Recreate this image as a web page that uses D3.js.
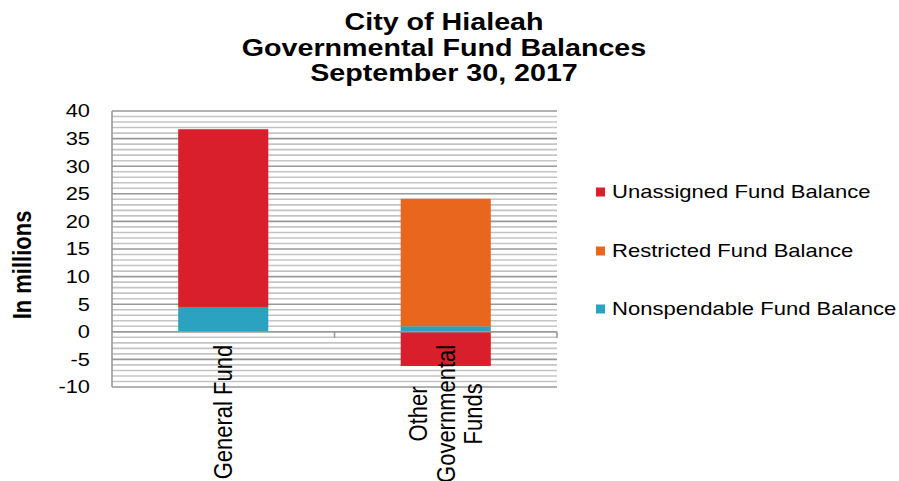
<!DOCTYPE html>
<html>
<head>
<meta charset="utf-8">
<script src="https://cdn.jsdelivr.net/npm/d3@7"></script>
<style>
    body { margin: 0; background: #fff; }
    text { font-family: "Liberation Sans", Arial, sans-serif; fill: #000; }
</style>
</head>
<body>
<svg id="chart" width="899" height="481"></svg>
<script>
// data, in millions
var categories = ["General Fund", "Other Governmental Funds"];
var categoryLines = [["General Fund"], ["Other", "Governmental", "Funds"]];
var seriesNames = ["Nonspendable Fund Balance", "Restricted Fund Balance", "Unassigned Fund Balance"];
var nonspendable = [4.5, 1.0];
var restricted = [0, 23.1];
var unassigned = [32.2, -6.2];
var yTicks = [40, 35, 30, 25, 20, 15, 10, 5, 0, -5, -10];
var titleLines = ["City of Hialeah", "Governmental Fund Balances", "September 30, 2017"];

var colors = {
    "Nonspendable Fund Balance": "#2ba3c0",
    "Restricted Fund Balance": "#e8661e",
    "Unassigned Fund Balance": "#d91f2b"
};

// the reference text is a bit wide, so stretch it sideways
var stretch = 1.18;
var legendStretch = 1.225;

var svg = d3.select("#chart");
var plot = {left: 112, right: 557, top: 111, bottom: 387};

var rows = categories.map(function (c, i) {
    return {
        category: c,
        "Nonspendable Fund Balance": nonspendable[i],
        "Restricted Fund Balance": restricted[i],
        "Unassigned Fund Balance": unassigned[i]
    };
});

var xScale = d3.scaleBand().domain(categories).range([plot.left, plot.right]).padding(0);
var yScale = d3.scaleLinear().domain([-10, 40]).range([plot.bottom, plot.top]);
var barWidth = xScale.bandwidth() * 0.405;

// grid, minor every 1, major every 5
var minorValues = d3.range(-10, 41, 1).filter(function (v) { return v % 5 !== 0; });
svg.append("g")
    .attr("class", "minorGrid")
    .selectAll("line")
    .data(minorValues)
    .enter()
    .append("line")
    .attr("x1", plot.left).attr("x2", plot.right)
    .attr("y1", function (d) { return yScale(d); })
    .attr("y2", function (d) { return yScale(d); })
    .style("stroke", "#c4c4c4")
    .style("stroke-width", 1.6);

svg.append("g")
    .attr("class", "majorGrid")
    .selectAll("line")
    .data(yTicks)
    .enter()
    .append("line")
    .attr("x1", plot.left).attr("x2", plot.right)
    .attr("y1", function (d) { return yScale(d); })
    .attr("y2", function (d) { return yScale(d); })
    .style("stroke", "#999")
    .style("stroke-width", 1.6);

// y axis line
svg.append("line")
    .attr("x1", plot.left).attr("x2", plot.left)
    .attr("y1", plot.top).attr("y2", plot.bottom)
    .style("stroke", "#999")
    .style("stroke-width", 1.6);

// stacked bars
var stack = d3.stack().keys(seriesNames).offset(d3.stackOffsetDiverging);
var stacked = stack(rows);

svg.append("g")
    .attr("class", "bars")
    .selectAll("g")
    .data(stacked)
    .enter()
    .append("g")
    .style("fill", function (d) { return colors[d.key]; })
    .selectAll("rect")
    .data(function (d) { return d; })
    .enter()
    .append("rect")
    .attr("x", function (d) { return xScale(d.data.category) + (xScale.bandwidth() - barWidth) / 2; })
    .attr("width", barWidth)
    .attr("y", function (d) { return yScale(Math.max(d[0], d[1])); })
    .attr("height", function (d) { return Math.abs(yScale(d[0]) - yScale(d[1])); });

// category axis at zero
var xAxisG = svg.append("g")
    .attr("class", "xAxisG")
    .attr("transform", "translate(0," + yScale(0) + ")");
xAxisG.append("line")
    .attr("x1", plot.left).attr("x2", plot.right)
    .style("stroke", "#999")
    .style("stroke-width", 1.6);
xAxisG.selectAll(".tickMark")
    .data(categories)
    .enter()
    .append("line")
    .attr("class", "tickMark")
    .attr("x1", function (d) { return xScale(d) + xScale.bandwidth(); })
    .attr("x2", function (d) { return xScale(d) + xScale.bandwidth(); })
    .attr("y1", 0).attr("y2", 6)
    .style("stroke", "#999")
    .style("stroke-width", 1.6);

// y tick labels
svg.append("g")
    .attr("class", "yLabels")
    .selectAll("text")
    .data(yTicks)
    .enter()
    .append("text")
    .attr("transform", function (d) {
        return "translate(" + (plot.left - 22) + "," + yScale(d) + ") scale(" + stretch + ",1)";
    })
    .attr("text-anchor", "end")
    .attr("dy", "0.35em")
    .style("font-size", "18.5px")
    .text(function (d) { return d; });

// category labels, rotated, longest line ends just under the zero line
var labelTop = yScale(0) + 13;
var lineGap = 27.5;
categoryLines.forEach(function (lines, i) {
    var cx = xScale(categories[i]) + xScale.bandwidth() / 2;
    var g = svg.append("g");
    var texts = g.selectAll("text")
        .data(lines)
        .enter()
        .append("text")
        .attr("text-anchor", "middle")
        .attr("dominant-baseline", "central")
        .style("font-size", "22px")
        .text(function (d) { return d; });
    var maxLen = d3.max(texts.nodes(), function (n) { return n.getComputedTextLength(); });
    var cy = labelTop + maxLen / 2;
    texts.attr("transform", function (d, j) {
        var x = cx + (j - (lines.length - 1) / 2) * lineGap;
        return "translate(" + x + "," + cy + ") scale(" + stretch + ",1) rotate(-90)";
    });
});

// y axis title
svg.append("text")
    .attr("transform", "translate(22," + 265 + ") scale(" + stretch + ",1) rotate(-90)")
    .attr("text-anchor", "middle")
    .attr("dominant-baseline", "central")
    .style("font-size", "22px")
    .style("font-weight", "bold")
    .text("In millions");

// title
svg.append("g")
    .selectAll("text")
    .data(titleLines)
    .enter()
    .append("text")
    .attr("transform", function (d, i) {
        return "translate(444," + (30 + i * 25.5) + ") scale(1.17,1)";
    })
    .attr("text-anchor", "middle")
    .style("font-size", "24.5px")
    .style("font-weight", "bold")
    .text(function (d) { return d; });

// legend, reversed so Unassigned is on top
var legendNames = seriesNames.slice().reverse();
var legendRows = [192, 251, 309];
var legend = svg.append("g").attr("class", "legend");
legend.selectAll("rect")
    .data(legendNames)
    .enter()
    .append("rect")
    .attr("x", 596)
    .attr("y", function (d, i) { return legendRows[i] - 4.5; })
    .attr("width", 9)
    .attr("height", 9)
    .style("fill", function (d) { return colors[d]; });
legend.selectAll("text")
    .data(legendNames)
    .enter()
    .append("text")
    .attr("transform", function (d, i) {
        return "translate(612," + legendRows[i] + ") scale(" + legendStretch + ",1)";
    })
    .attr("dy", "0.35em")
    .style("font-size", "18px")
    .text(function (d) { return d; });
</script>
</body>
</html>
